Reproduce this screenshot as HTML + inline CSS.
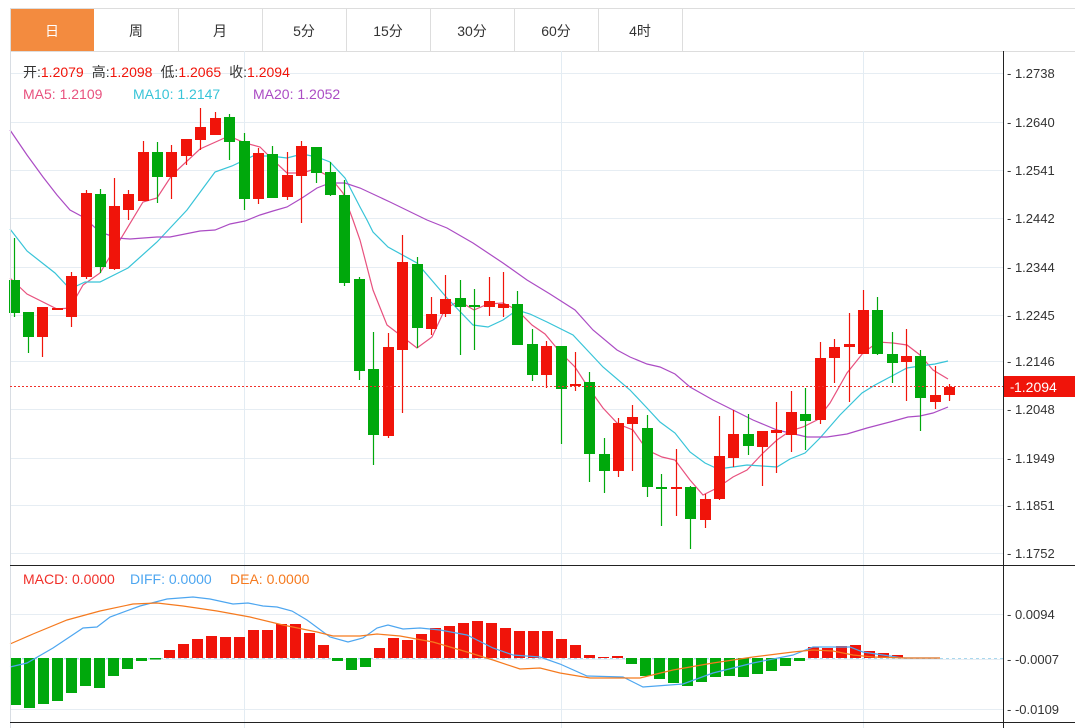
<!DOCTYPE html>
<html><head><meta charset="utf-8"><style>
html,body{margin:0;padding:0;background:#fff;width:1075px;height:728px;overflow:hidden}
svg{display:block}
text{font-family:"Liberation Sans","Noto Sans CJK SC",sans-serif}
</style></head><body>
<svg id="s" width="1075" height="728" xmlns="http://www.w3.org/2000/svg">
<rect x="0" y="0" width="1075" height="728" fill="#fff"/>
<rect x="10.5" y="8.5" width="1070" height="43" fill="#fff" stroke="#dddddd"/>
<rect x="11" y="9" width="83" height="42" fill="#f38b3f"/>
<g stroke="#dddddd"><line x1="178.5" y1="9" x2="178.5" y2="51"/><line x1="262.5" y1="9" x2="262.5" y2="51"/><line x1="346.5" y1="9" x2="346.5" y2="51"/><line x1="430.5" y1="9" x2="430.5" y2="51"/><line x1="514.5" y1="9" x2="514.5" y2="51"/><line x1="598.5" y1="9" x2="598.5" y2="51"/><line x1="682.5" y1="9" x2="682.5" y2="51"/></g>
<g font-size="14" fill="#333" text-anchor="middle">
<text x="52" y="36" fill="#fff">日</text><text x="136" y="36">周</text><text x="220" y="36">月</text><text x="304" y="36">5分</text><text x="388" y="36">15分</text><text x="472" y="36">30分</text><text x="556" y="36">60分</text><text x="640" y="36">4时</text>
</g>
<g id="grid"></g>
<g id="ma"></g>
<g id="candles"></g>
<g id="macd"></g>
<line x1="10.5" y1="51" x2="10.5" y2="728" stroke="#d8dde3"/>
<line x1="1003.5" y1="51" x2="1003.5" y2="728" stroke="#222"/>
<line x1="10" y1="565.5" x2="1075" y2="565.5" stroke="#222"/>
<line x1="10" y1="722.5" x2="1075" y2="722.5" stroke="#222"/>
<line x1="10" y1="386.5" x2="1003" y2="386.5" stroke="#f0302a" stroke-dasharray="2,2"/>
<rect x="1004" y="376" width="71" height="21" fill="#f0140a"/>
<text x="1010" y="391.5" font-size="13" fill="#fff">-</text>
<text x="1014" y="392" font-size="14" fill="#fff">1.2094</text>
<g font-size="14">
<text x="23" y="77" fill="#333">开:<tspan fill="#f0140a">1.2079</tspan><tspan dx="8">高:</tspan><tspan fill="#f0140a">1.2098</tspan><tspan dx="8">低:</tspan><tspan fill="#f0140a">1.2065</tspan><tspan dx="8">收:</tspan><tspan fill="#f0140a">1.2094</tspan></text>
<text x="23" y="99" fill="#e8517e">MA5: 1.2109</text>
<text x="133" y="99" fill="#38c4d8">MA10: 1.2147</text>
<text x="253" y="99" fill="#ab4cc4">MA20: 1.2052</text>
<text x="23" y="584" fill="#f0302a">MACD: 0.0000</text>
<text x="130" y="584" fill="#4da6f0">DIFF: 0.0000</text>
<text x="230" y="584" fill="#f57a1f">DEA: 0.0000</text>
</g>
<g id="axis" font-size="13" fill="#333"></g>
</svg>
<script>
var NS="http://www.w3.org/2000/svg";
function el(p,t,a){var e=document.createElementNS(NS,t);for(var k in a)e.setAttribute(k,a[k]);document.getElementById(p).appendChild(e);return e;}
var ticks=[[73,"1.2738"],[122,"1.2640"],[170,"1.2541"],[218,"1.2442"],[267,"1.2344"],[315,"1.2245"],[361,"1.2146"],[409,"1.2048"],[458,"1.1949"],[505,"1.1851"],[553,"1.1752"]];
ticks.forEach(function(t){el("grid","line",{x1:10,x2:1003,y1:t[0]+.5,y2:t[0]+.5,stroke:"#e6edf3"});var tx=el("axis","text",{x:1007,y:t[0]+5});tx.textContent="- "+t[1];});
[[614,"0.0094"],[659,"-0.0007"],[709,"-0.0109"]].forEach(function(t){el("grid","line",{x1:10,x2:1003,y1:t[0]+.5,y2:t[0]+.5,stroke:"#e6edf3"});var tx=el("axis","text",{x:1007,y:t[0]+5});tx.textContent="- "+t[1];});
[244,561,863].forEach(function(x){el("grid","line",{x1:x+.5,x2:x+.5,y1:51,y2:728,stroke:"#e3ecf3"});});
el("grid","line",{x1:10,x2:1003,y1:658.5,y2:658.5,stroke:"#a9d8ee","stroke-dasharray":"3,3"});
var C=[[14,280,313,238,317,"g"],[28,312,337,312,353,"g"],[42,307,337,307,357,"r"],[57,308,310,308,310,"r"],[71,276,317,272,327,"r"],[86,193,277,190,279,"r"],[100,194,267,189,273,"g"],[114,206,269,178,270,"r"],[128,194,210,190,220,"r"],[143,152,201,141,201,"r"],[157,152,177,142,203,"g"],[171,152,177,145,199,"r"],[186,139,156,139,165,"r"],[200,127,140,108,150,"r"],[215,118,135,112,135,"r"],[229,117,142,114,160,"g"],[244,141,199,133,210,"g"],[258,153,199,148,204,"r"],[272,154,198,146,198,"g"],[287,175,197,152,200,"r"],[301,146,176,141,223,"r"],[316,147,173,147,183,"g"],[330,172,195,162,196,"g"],[344,195,283,180,286,"g"],[359,279,371,277,380,"g"],[373,369,435,332,465,"g"],[388,347,436,333,438,"r"],[402,262,350,235,413,"r"],[417,264,328,257,348,"g"],[431,314,329,297,335,"r"],[445,299,314,275,317,"r"],[460,298,307,280,355,"g"],[474,305,307,289,350,"g"],[489,301,307,277,316,"r"],[503,304,308,272,317,"r"],[517,304,345,291,345,"g"],[532,344,375,329,381,"g"],[546,346,375,341,388,"r"],[561,346,389,346,444,"g"],[575,384,386,352,391,"r"],[589,382,454,372,482,"g"],[604,454,471,438,493,"g"],[618,423,471,418,477,"r"],[632,417,424,405,471,"r"],[647,428,487,415,497,"g"],[661,487,489,474,526,"g"],[676,487,489,449,516,"r"],[690,487,519,486,549,"g"],[705,499,520,494,528,"r"],[719,456,499,416,500,"r"],[733,434,458,410,467,"r"],[748,434,446,414,455,"g"],[762,431,447,431,486,"r"],[776,430,433,402,473,"r"],[791,412,435,391,452,"r"],[805,414,421,388,450,"g"],[820,358,420,342,424,"r"],[834,347,358,339,383,"r"],[849,344,347,313,402,"r"],[863,310,354,290,354,"r"],[877,310,354,297,355,"g"],[892,354,363,332,383,"g"],[906,356,362,329,401,"r"],[920,356,398,350,431,"g"],[935,395,402,366,409,"r"],[949,387,395,384,401,"r"]];
C.forEach(function(c){var col=c[5]=="g"?"#00a80c":"#f0140a";var x=c[0];
el("candles","line",{x1:x+.5,x2:x+.5,y1:c[3],y2:c[4],stroke:col,"stroke-width":1.2});
var h=Math.max(c[2]-c[1],2);el("candles","rect",{x:x-5,y:c[1],width:11,height:h,fill:col});});
function pl(pts,col,g){el(g,"polyline",{points:pts.map(function(p){return p.join(",")}).join(" "),fill:"none",stroke:col,"stroke-width":1.2});}
pl([[10,278],[27,294],[57,309],[70,308],[83,285],[100,273],[120,240],[143,202],[157,198],[172,175],[200,149],[229,136],[245,143],[260,147],[273,160],[287,173],[302,173],[315,169],[330,177],[343,193],[353,220],[360,240],[373,290],[387,325],[417,348],[432,337],[445,309],[459,301],[474,310],[488,304],[503,303],[517,310],[532,325],[545,334],[560,352],[575,367],[588,387],[603,408],[618,424],[633,430],[647,450],[662,457],[675,460],[690,480],[703,495],[717,488],[733,477],[747,470],[763,453],[777,440],[790,431],[803,427],[817,420],[830,403],[847,373],[863,353],[878,342],[893,343],[907,345],[920,355],[933,370],[948,379]],"#e8517e","ma");
pl([[10,229],[27,251],[55,273],[70,289],[85,282],[100,282],[128,268],[157,242],[187,210],[215,172],[232,166],[253,156],[270,156],[287,158],[302,154],[317,157],[330,162],[345,178],[360,207],[367,220],[373,232],[388,247],[417,263],[447,298],[473,325],[488,327],[503,320],[517,310],[530,314],[547,322],[573,335],[603,367],[630,390],[647,408],[660,422],[675,433],[690,452],[705,463],[718,469],[733,467],[747,465],[762,466],[777,467],[790,459],[805,453],[820,438],[840,415],[862,393],[875,385],[890,377],[907,368],[920,366],[935,364],[948,361]],"#38c4d8","ma");
pl([[10,130],[27,155],[43,177],[57,195],[70,210],[83,217],[100,232],[117,238],[130,239],[157,237],[170,237],[200,231],[215,230],[230,224],[245,221],[260,215],[273,211],[287,207],[302,198],[317,188],[330,183],[345,183],[360,188],[390,202],[427,220],[447,228],[473,243],[503,263],[527,280],[550,294],[575,310],[593,330],[617,350],[630,357],[647,364],[660,367],[675,374],[690,387],[713,400],[733,410],[753,420],[777,430],[790,433],[807,437],[827,437],[847,434],[867,428],[890,422],[908,417],[920,416],[933,413],[948,407]],"#ab4cc4","ma");
var M=[705,708,704,701,693,686,688,676,669,661,659.5,650,644,639,636,637,637,630,630,624,624,633,645,661,670,667,648,638,640,634,628,626,623,621,623,628,631,631,631,639,645,655,657,656,664,676,679,683,686,682,677,676,677,674,671,666,661,647,648,646,645,651,653,655,657.5,657.5];
M.forEach(function(v,i){var x=10+i*14;var up=v<658;var col=up?"#f0140a":"#00a80c";var y=Math.min(v,658),h=Math.max(Math.abs(v-658),1);el("macd","rect",{x:x,y:y,width:11,height:h,fill:col});});
pl([[10,667],[27,663],[53,648],[83,628],[97,627],[110,617],[140,606],[167,599],[193,597],[210,599],[233,604],[248,603],[263,606],[277,607],[292,611],[307,620],[330,637],[348,642],[363,638],[377,628],[388,625],[403,629],[420,628],[440,630],[467,635],[493,648],[513,655],[540,657],[560,664],[587,676],[623,677],[643,687],[683,684],[713,673],[753,663],[793,655],[813,647],[833,647],[850,647],[863,652],[883,655],[903,658],[940,658]],"#4da6f0","macd");
pl([[10,644],[33,634],[67,620],[100,611],[133,604],[157,603],[183,606],[217,611],[250,617],[283,625],[317,632],[333,636],[360,636],[377,634],[400,636],[433,642],[467,652],[493,660],[520,669],[540,668],[560,673],[590,678],[640,678],[673,670],[713,663],[753,657],[793,652],[813,650],[833,651],[853,655],[873,657],[907,658],[940,658]],"#f57a1f","macd");
</script>
</body></html>
